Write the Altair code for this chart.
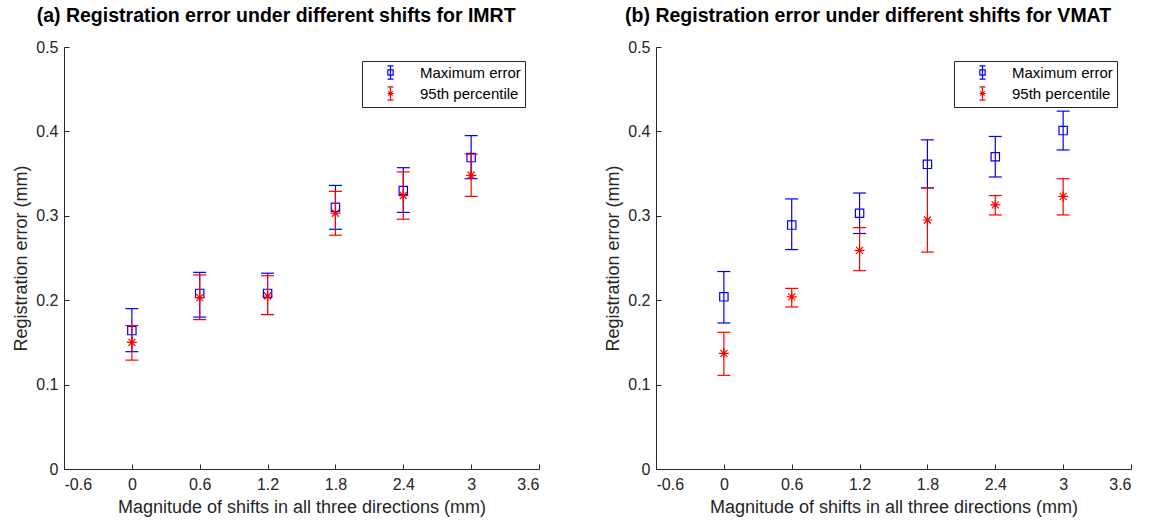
import altair as alt
import pandas as pd

# ---------------- data ----------------
x_shift = [0, 0.6, 1.2, 1.8, 2.4, 3]
series_names = ["Maximum error", "95th percentile"]

imrt_max = [0.164, 0.208, 0.208, 0.310, 0.330, 0.369]
imrt_max_lo = [0.139, 0.180, 0.183, 0.284, 0.304, 0.344]
imrt_max_hi = [0.190, 0.233, 0.232, 0.336, 0.357, 0.395]
imrt_p95 = [0.150, 0.203, 0.205, 0.303, 0.324, 0.348]
imrt_p95_lo = [0.129, 0.177, 0.183, 0.277, 0.296, 0.323]
imrt_p95_hi = [0.170, 0.230, 0.229, 0.329, 0.352, 0.373]

vmat_max = [0.204, 0.289, 0.303, 0.361, 0.370, 0.401]
vmat_max_lo = [0.173, 0.260, 0.279, 0.333, 0.346, 0.378]
vmat_max_hi = [0.234, 0.320, 0.327, 0.390, 0.394, 0.424]
vmat_p95 = [0.137, 0.204, 0.259, 0.295, 0.313, 0.323]
vmat_p95_lo = [0.111, 0.192, 0.235, 0.257, 0.301, 0.301]
vmat_p95_hi = [0.162, 0.214, 0.286, 0.333, 0.324, 0.344]

x_ticks = [-0.6, 0, 0.6, 1.2, 1.8, 2.4, 3, 3.6]
y_ticks = [0, 0.1, 0.2, 0.3, 0.4, 0.5]

title_a = "(a) Registration error under different shifts for IMRT"
title_b = "(b) Registration error under different shifts for VMAT"
x_title = "Magnitude of shifts in all three directions (mm)"
y_title = "Registration error (mm)"

BLUE = "#0000ff"
RED = "#ff0000"
INK = "#262626"
FONT = "Liberation Sans"

# marker / legend glyph paths
STAR = "M-1,0L1,0M0,-1L0,1M-0.7,-0.7L0.7,0.7M-0.7,0.7L0.7,-0.7"
LEG_MAX = ("M0,-1L0,1M-0.45,-1L0.45,-1M-0.45,1L0.45,1"
           "M-0.4,-0.4L0.4,-0.4L0.4,0.4L-0.4,0.4Z")
LEG_P95 = ("M0,-1L0,1M-0.45,-1L0.45,-1M-0.45,1L0.45,1"
           "M-0.45,0L0.45,0M-0.32,-0.32L0.32,0.32M-0.32,0.32L0.32,-0.32")


def make_df(mx, mxlo, mxhi, p, plo, phi):
    rows = []
    for i, xv in enumerate(x_shift):
        rows.append({"x": xv, "series": series_names[0], "v": mx[i], "lo": mxlo[i], "hi": mxhi[i]})
    for i, xv in enumerate(x_shift):
        rows.append({"x": xv, "series": series_names[1], "v": p[i], "lo": plo[i], "hi": phi[i]})
    return pd.DataFrame(rows)


label_expr = "datum.value < 0 ? '-' + format(-datum.value, '~g') : format(datum.value, '~g')"


def panel(df, title):
    xs = alt.Scale(domain=[-0.6, 3.6], nice=False, zero=False)
    ys = alt.Scale(domain=[0, 0.5], nice=False, zero=False)
    x_none = alt.X("x:Q", scale=xs, axis=None)

    x_main = alt.X("x:Q", scale=xs, axis=alt.Axis(
        values=x_ticks, labelExpr=label_expr, ticks=False, title=x_title,
        labelPadding=7, titlePadding=6, grid=False, orient="bottom"))
    y_main_axis = alt.Axis(
        values=y_ticks, labelExpr=label_expr, ticks=False, title=y_title,
        labelPadding=6, titlePadding=5, grid=False, orient="left")

    base = alt.Chart(df)

    legend_layer = base.transform_filter("false").mark_point(
        filled=False, strokeWidth=1, opacity=1
    ).encode(
        color=alt.Color("series:N", scale=alt.Scale(domain=series_names, range=[BLUE, RED]),
                        legend=alt.Legend(title=None)),
        shape=alt.Shape("series:N", scale=alt.Scale(domain=series_names, range=[LEG_MAX, LEG_P95]),
                        legend=alt.Legend(title=None)),
    )

    layers = [legend_layer]
    first = True
    for name, color, shape, size in [(series_names[0], BLUE, "square", 70),
                                     (series_names[1], RED, STAR, 100)]:
        sub = base.transform_filter(alt.datum.series == name)
        rule = sub.mark_rule(color=color, strokeWidth=1.2).encode(
            x=x_main if first else x_none,
            y=alt.Y("lo:Q", scale=ys, axis=y_main_axis if first else None),
            y2="hi:Q",
        )
        caps = sub.transform_fold(["lo", "hi"], as_=["end", "val"]).mark_tick(
            color=color, orient="horizontal", size=13, thickness=1.2, opacity=1
        ).encode(x=x_none, y=alt.Y("val:Q", scale=ys, axis=None))
        pts = sub.mark_point(shape=shape, filled=False, color=color, size=size,
                             strokeWidth=1.2, opacity=1).encode(
            x=x_none, y=alt.Y("v:Q", scale=ys, axis=None))
        layers += [rule, caps, pts]
        first = False

    tick_layer = base.mark_point(opacity=0).encode(
        x=alt.X("x:Q", scale=xs, axis=alt.Axis(
            orient="bottom", offset=-5, values=x_ticks, labels=False, domain=False,
            ticks=True, tickSize=5, tickColor=INK, title=None, grid=False)),
        y=alt.Y("v:Q", scale=ys, axis=alt.Axis(
            orient="left", offset=-5, values=y_ticks, labels=False, domain=False,
            ticks=True, tickSize=5, tickColor=INK, title=None, grid=False)),
    )
    layers.append(tick_layer)

    return alt.layer(*layers).resolve_axis(x="independent", y="independent").properties(
        width=475, height=422,
        title=alt.TitleParams(text=title, fontSize=19.5, fontWeight="bold", font=FONT,
                              color="black", anchor="middle", frame="bounds", offset=13),
    )


df_imrt = make_df(imrt_max, imrt_max_lo, imrt_max_hi, imrt_p95, imrt_p95_lo, imrt_p95_hi)
df_vmat = make_df(vmat_max, vmat_max_lo, vmat_max_hi, vmat_p95, vmat_p95_lo, vmat_p95_hi)

chart = alt.hconcat(
    panel(df_imrt, title_a), panel(df_vmat, title_b), spacing=64
).resolve_scale(color="independent", shape="independent").resolve_legend(
    color="independent", shape="independent"
).properties(
    padding={"left": 12, "top": 5, "right": 5, "bottom": 2}
).configure_view(stroke="transparent").configure_axis(
    labelFont=FONT, labelFontSize=16, labelColor=INK,
    titleFont=FONT, titleFontSize=18, titleFontWeight="normal", titleColor=INK,
    domainColor=INK, domainWidth=1,
).configure_legend(
    orient="top-right", offset=14, strokeColor=INK, fillColor="white",
    padding=4, symbolOffset=17, labelOffset=22, labelFont=FONT, labelFontSize=15,
    labelColor="black", symbolSize=180, symbolStrokeWidth=1.2, rowPadding=2,
    symbolFillColor="transparent",
)

chart.save("out.html", embed_options={"renderer": "svg", "actions": False})
